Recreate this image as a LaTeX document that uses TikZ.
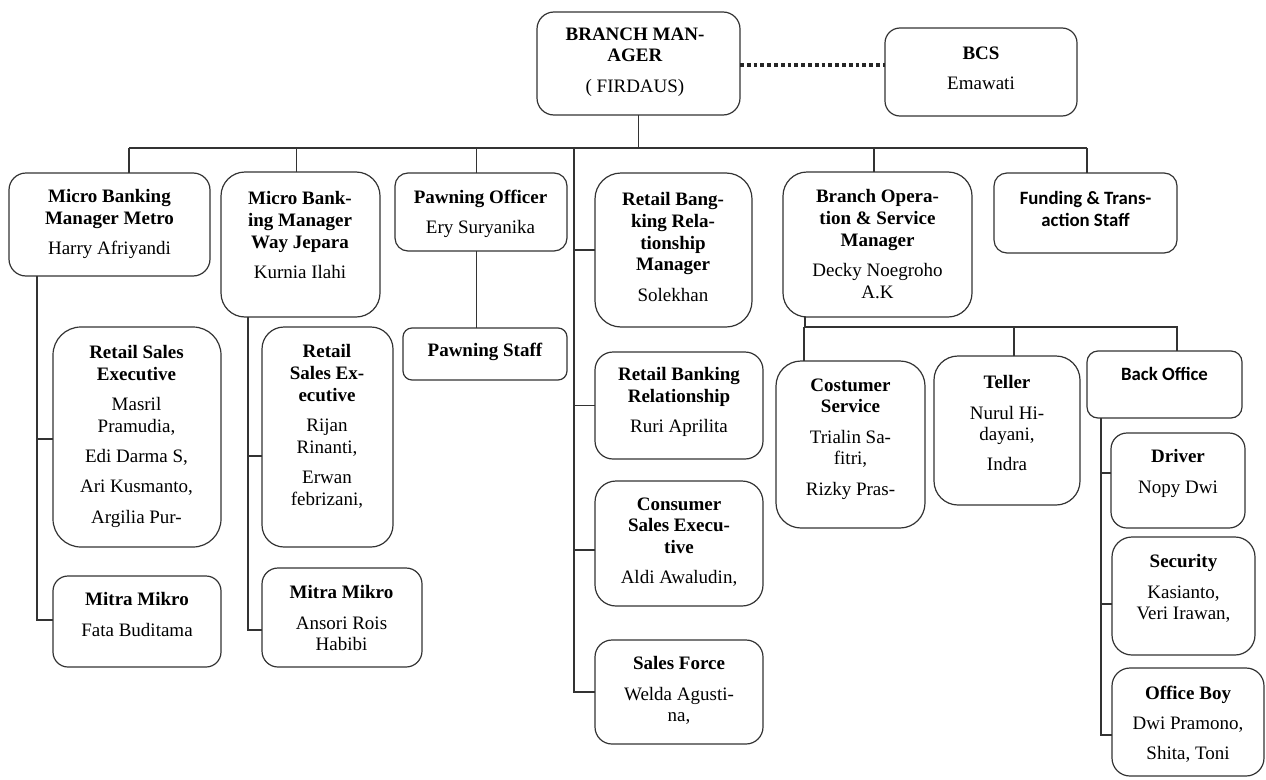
\documentclass[tikz,border=0pt]{standalone}
\usepackage{fontspec}
\setmainfont{Liberation Serif}
\newfontfamily\calfont{Carlito}
\usetikzlibrary{calc}

\tikzset{
  orgbox/.style={draw=black!80, line width=1.2pt, inner sep=0pt, outer sep=0pt},
  orgtext/.style={anchor=north, inner sep=0pt, align=center, font=\fontsize{19}{21.7}\selectfont},
  orgsans/.style={anchor=north, inner sep=0pt, align=center, font=\calfont\bfseries\fontsize{18.8}{21.7}\selectfont},
  link/.style={draw=black!80, line width=1.2pt},
  dotlink/.style={draw=black!85, line width=4.2pt, dash pattern=on 3.8pt off 3pt}
}

\begin{document}
\begin{tikzpicture}[x=1pt,y=1pt,yscale=-1,xscale=1]
\useasboundingbox (0,0) rectangle (1266,779);

%Shape: Rounded Rect
\node[orgbox, minimum width=203, minimum height=103, rounded corners=17] (bm) at (638.5,63.5) {};
\node[orgbox, minimum width=192, minimum height=88, rounded corners=15] (bcs) at (981,72) {};
\node[orgbox, minimum width=201, minimum height=103, rounded corners=17] (metro) at (109.5,224.5) {};
\node[orgbox, minimum width=159, minimum height=145, rounded corners=24] (wayjepara) at (300.5,244.5) {};
\node[orgbox, minimum width=172, minimum height=78, rounded corners=13] (pawnoff) at (481,212) {};
\node[orgbox, minimum width=164, minimum height=52, rounded corners=9] (pawnstaff) at (485,354) {};
\node[orgbox, minimum width=157, minimum height=154, rounded corners=26] (rbrm) at (673.5,250) {};
\node[orgbox, minimum width=189, minimum height=145, rounded corners=24] (bosm) at (877.5,244.5) {};
\node[orgbox, minimum width=183, minimum height=80, rounded corners=13] (funding) at (1085.5,213) {};
%Shape: Rounded Rect
\node[orgbox, minimum width=168, minimum height=220, rounded corners=28] (rseA) at (137,437) {};
\node[orgbox, minimum width=168, minimum height=91, rounded corners=15] (mitraA) at (137,621.5) {};
\node[orgbox, minimum width=131, minimum height=220, rounded corners=22] (rseB) at (327.5,437) {};
\node[orgbox, minimum width=160, minimum height=99, rounded corners=16] (mitraB) at (342,617.5) {};
\node[orgbox, minimum width=168, minimum height=107, rounded corners=18] (rbr) at (679,405.5) {};
\node[orgbox, minimum width=168, minimum height=125, rounded corners=21] (cse) at (679,543.5) {};
\node[orgbox, minimum width=168, minimum height=104, rounded corners=17] (salesforce) at (679,692) {};
%Shape: Rounded Rect
\node[orgbox, minimum width=149, minimum height=167, rounded corners=25] (cs) at (850.5,444.5) {};
\node[orgbox, minimum width=146, minimum height=149, rounded corners=24] (teller) at (1007,430.5) {};
\node[orgbox, minimum width=155, minimum height=67, rounded corners=11] (backoff) at (1164.5,384.5) {};
\node[orgbox, minimum width=134, minimum height=95, rounded corners=16] (driver) at (1178,480.5) {};
\node[orgbox, minimum width=143, minimum height=118, rounded corners=20] (security) at (1183.5,596) {};
\node[orgbox, minimum width=152, minimum height=108, rounded corners=18] (officeboy) at (1188,722) {};

%Straight Lines
\draw[dotlink] ([yshift=1.5]bm.east) -- ([yshift=1.5]bm.east -| bcs.west);
\coordinate (bus) at (638.5,148);
\coordinate (trunk) at (574,148);
\draw[link] (bm.south) -- (bus);
\draw[link, line width=1.6pt] ([xshift=19.5]metro.north |- bus) -- ([xshift=1.5]funding.north |- bus);
\draw[link] ([xshift=19.5]metro.north) -- ([xshift=19.5]metro.north |- bus);
\draw[link] ([xshift=-4]wayjepara.north) -- ([xshift=-4]wayjepara.north |- bus);
\draw[link] ([xshift=-4.5]pawnoff.north) -- ([xshift=-4.5]pawnoff.north |- bus);
\draw[link] ([xshift=-3.5]bosm.north) -- ([xshift=-3.5]bosm.north |- bus);
\draw[link] ([xshift=1.5]funding.north) -- ([xshift=1.5]funding.north |- bus);
%Straight Lines
\draw[link] (trunk) |- (salesforce.west);
\draw[link] (trunk |- rbrm.west) -- (rbrm.west);
\draw[link] (trunk |- rbr.west) -- (rbr.west);
\draw[link] ([yshift=6.5]cse.west) -| (trunk);
\draw[link] ([xshift=-4.5]pawnoff.south) -- ([xshift=-4.5]pawnoff.south |- pawnstaff.north);
%Straight Lines
\coordinate (metroleg) at ([xshift=28]metro.south west);
\draw[link] (metroleg) |- ([yshift=-1.5]mitraA.west);
\draw[link] ([yshift=2]rseA.west) -| (metroleg);
\coordinate (wjleg) at ([xshift=27]wayjepara.south west);
\draw[link] (wjleg) |- ([yshift=12.5]mitraB.west);
\draw[link] ([yshift=19]rseB.west) -| (wjleg);
%Straight Lines
\coordinate (opsbus) at (805,327);
\draw[link] ([xshift=22]bosm.south west) -- (opsbus) -| ([xshift=12.5]backoff.north);
\draw[link] ([xshift=28]cs.north west) -- ([xshift=28]cs.north west |- opsbus);
\draw[link] ([xshift=7]teller.north) -- ([xshift=7]teller.north |- opsbus);
\coordinate (boleg) at ([xshift=14]backoff.south west);
\draw[link] (boleg) |- ([yshift=13]officeboy.west);
\draw[link] ([yshift=-7.5]driver.west) -| (boleg);
\draw[link] ([yshift=8]security.west) -| (boleg);

% Text Node
\node[orgtext] (bmt) at (635,27.5) {\textbf{BRANCH MAN-}\\\textbf{AGER}\\[8.5pt]( FIRDAUS)};
\node[orgtext] (bcst) at (981,46.5) {\textbf{BCS}\\[8.5pt]Emawati};
\node[orgtext] (metrot) at (109.5,189.5) {\textbf{Micro Banking}\\\textbf{Manager Metro}\\[8.5pt]Harry Afriyandi};
\node[orgtext] (wayjeparat) at (300,191.5) {\textbf{Micro Bank-}\\\textbf{ing Manager}\\\textbf{Way Jepara}\\[8.5pt]Kurnia Ilahi};
\node[orgtext] (pawnofft) at (480.5,189.5) {\textbf{Pawning Officer}\\[8.5pt]Ery Suryanika};
\node[orgtext] (pawnstafft) at (485,342.5) {\textbf{Pawning Staff}};
\node[orgtext] (rbrmt) at (673,192.5) {\textbf{Retail Bang-}\\\textbf{king Rela-}\\\textbf{tionship}\\\textbf{Manager}\\[8.5pt]Solekhan};
\node[orgtext] (bosmt) at (877.5,189.5) {\textbf{Branch Opera-}\\\textbf{tion \& Service}\\\textbf{Manager}\\[8.5pt]Decky Noegroho\\A.K};
\node[orgsans] (fundingt) at (1085.5,191.5) {Funding \& Trans-\\action Staff};
% Text Node
\node[orgtext] (rseAt) at (136.5,345.5) {\textbf{Retail Sales}\\\textbf{Executive}\\[8.5pt]Masril\\Pramudia,\\[8.5pt]Edi Darma S,\\[8.5pt]Ari Kusmanto,\\[8.5pt]Argilia Pur-};
\node[orgtext] (mitraAt) at (137,592.5) {\textbf{Mitra Mikro}\\[8.5pt]Fata Buditama};
\node[orgtext] (rseBt) at (327,344.5) {\textbf{Retail}\\\textbf{Sales Ex-}\\\textbf{ecutive}\\[8.5pt]Rijan\\Rinanti,\\[8.5pt]Erwan\\febrizani,};
\node[orgtext] (mitraBt) at (341.5,585.5) {\textbf{Mitra Mikro}\\[8.5pt]Ansori Rois\\Habibi};
\node[orgtext] (rbrt) at (679,367.5) {\textbf{Retail Banking}\\\textbf{Relationship}\\[8.5pt]Ruri Aprilita};
\node[orgtext] (cset) at (679,497.5) {\textbf{Consumer}\\\textbf{Sales Execu-}\\\textbf{tive}\\[8.5pt]Aldi Awaludin,};
\node[orgtext] (salesforcet) at (679,656.5) {\textbf{Sales Force}\\[8.5pt]Welda Agusti-\\na,};
% Text Node
\node[orgtext] (cst) at (850.5,378.5) {\textbf{Costumer}\\\textbf{Service}\\[8.5pt]Trialin Sa-\\fitri,\\[8.5pt]Rizky Pras-};
\node[orgtext] (tellert) at (1007,375.5) {\textbf{Teller}\\[8.5pt]Nurul Hi-\\dayani,\\[8.5pt]Indra};
\node[orgsans] (backofft) at (1164.5,367.5) {Back Office};
\node[orgtext] (drivert) at (1178,449.5) {\textbf{Driver}\\[8.5pt]Nopy Dwi};
\node[orgtext] (securityt) at (1183.5,554.5) {\textbf{Security}\\[8.5pt]Kasianto,\\Veri Irawan,};
\node[orgtext] (officeboyt) at (1188,685.5) {\textbf{Office Boy}\\[8.5pt]Dwi Pramono,\\[8.5pt]Shita, Toni};

\end{tikzpicture}
\end{document}
